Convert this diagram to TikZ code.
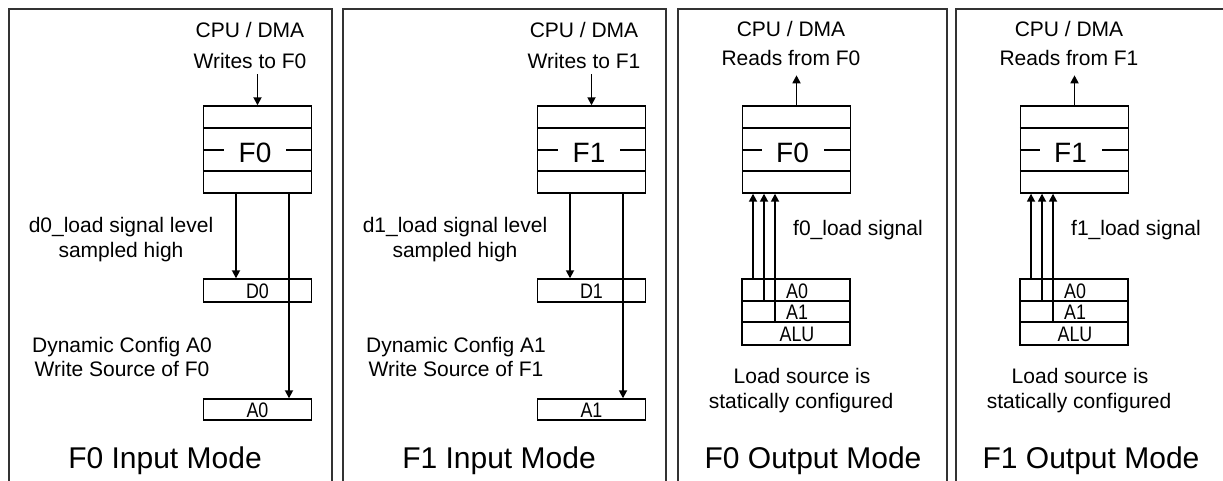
\documentclass[tikz,border=0pt]{standalone}
\usepackage{fontspec}
\setmainfont{Liberation Sans}
\usetikzlibrary{arrows.meta,calc}
\tikzset{
  panel/.style={draw=black!80,line width=1.8pt},
  lbl/.style={anchor=base,inner sep=0pt,font=\fontsize{21}{21}\selectfont},
  lblw/.style={anchor=base west,inner sep=0pt,font=\fontsize{21}{21}\selectfont},
  ttl/.style={anchor=base,inner sep=0pt,font=\fontsize{30}{30}\selectfont},
  fifotxt/.style={anchor=base,inner sep=0pt,font=\fontsize{28}{28}\selectfont},
  regtxt/.style={anchor=base,inner sep=0pt,font=\fontsize{21}{21}\selectfont},
  fifo/.style={draw,line width=1.4pt,minimum width=108pt,minimum height=87pt,inner sep=0pt},
  reg/.style={draw,line width=1.4pt,minimum width=108pt,inner sep=0pt},
  rowline/.style={line width=1.4pt},
  arr/.style={line width=1.7pt,-{Triangle[length=8pt,width=8pt]}},
}
\newcommand{\narrow}[1]{\scalebox{0.85}[1]{#1}}
\newcommand{\InPanel}[2]{%
\begin{scope}[xshift=#1]
  \draw[panel] (9,500) -- (9,9) -- (332,9) -- (332,500);
  \node[lbl] (cpuI#2) at (250,38) {CPU / DMA};
  \node[lbl] (wrI#2) at (250,69) {Writes to F#2};
  \node[fifo] (fI#2) at (257.5,149.5) {};
  \draw[rowline] (fI#2.west |- 0,128) -- (fI#2.east |- 0,128);
  \draw[rowline] (fI#2.west |- 0,171) -- (fI#2.east |- 0,171);
  \draw[rowline] (fI#2.west |- 0,150) -- ++(21,0);
  \draw[rowline] (fI#2.east |- 0,150) -- ++(-26,0);
  \node[fifotxt] (fIt#2) at (255,163) {F#2};
  \coordinate (srcI#2) at ([yshift=31pt]fI#2.north);
  \draw[arr] (srcI#2) -- (fI#2.north);
  \node[reg,minimum height=23pt] (dI#2) at (257.5,290.5) {};
  \node[regtxt] (dIt#2) at (257.5,298.5) {\narrow{D#2}};
  \node[reg,minimum height=21pt] (aI#2) at (257.5,409.5) {};
  \node[regtxt] (aIt#2) at (257.5,417) {\narrow{A#2}};
  \draw[arr] ([xshift=-21.5pt]fI#2.south) -- ([xshift=-21.5pt]fI#2.south |- dI#2.north);
  \draw[arr] ([xshift=31.5pt]fI#2.south) -- ([xshift=31.5pt]fI#2.south |- aI#2.north);
  \node[lbl] (ldI#2) at (121,233) {d#2\_load signal level};
  \node[lbl] (shI#2) at (121,257) {sampled high};
  \node[lbl] (dcI#2) at (122,352) {Dynamic Config A#2};
  \node[lbl] (wsI#2) at (122,376) {Write Source of F#2};
  \node[ttl] (tI#2) at (165,468) {F#2 Input Mode};
\end{scope}}
\newcommand{\OutPanel}[2]{%
\begin{scope}[xshift=#1]
  \draw[panel] (678,500) -- (678,9) -- (947,9) -- (947,500);
  \node[lbl] (cpuO#2) at (791,37) {CPU / DMA};
  \node[lbl] (rdO#2) at (791,66) {Reads from F#2};
  \node[fifo] (fO#2) at (796.5,149.5) {};
  \draw[rowline] (fO#2.west |- 0,128) -- (fO#2.east |- 0,128);
  \draw[rowline] (fO#2.west |- 0,171) -- (fO#2.east |- 0,171);
  \draw[rowline] (fO#2.west |- 0,150) -- ++(20,0);
  \draw[rowline] (fO#2.east |- 0,150) -- ++(-27,0);
  \node[fifotxt] (fOt#2) at (792.5,163) {F#2};
  \coordinate (dstO#2) at ([yshift=30pt]fO#2.north);
  \draw[arr] (fO#2.north) -- (dstO#2);
  \node[reg,minimum height=22pt] (a0O#2) at (796,290) {};
  \node[reg,minimum height=21pt] (a1O#2) at (796,311.5) {};
  \node[reg,minimum height=23pt] (aluO#2) at (796,333.5) {};
  \node[regtxt] (a0Ot#2) at (797,298) {\narrow{A0}};
  \node[regtxt] (a1Ot#2) at (797,319) {\narrow{A1}};
  \node[regtxt] (aluOt#2) at (797,341.5) {\narrow{ALU}};
  \draw[arr] ([xshift=-43pt]a0O#2.north) -- ([xshift=-43pt]a0O#2.north |- fO#2.south);
  \draw[arr] ([xshift=-32pt]a1O#2.north) -- ([xshift=-32pt]a1O#2.north |- fO#2.south);
  \draw[arr] ([xshift=-21pt]aluO#2.north) -- ([xshift=-21pt]aluO#2.north |- fO#2.south);
  \node[lblw] (ldO#2) at (793,235) {f#2\_load signal};
  \node[lbl] (lsO#2) at (802,383) {Load source is};
  \node[lbl] (scO#2) at (801,408) {statically configured};
  \node[ttl] (tO#2) at (813,468) {F#2 Output Mode};
\end{scope}}
\begin{document}
\begin{tikzpicture}[x=1pt,y=-1pt]
  \path[use as bounding box] (0,0) rectangle (1223,481);
  \clip (0,0) rectangle (1223,481);
  \fill[white] (0,0) rectangle (1223,481);
  \InPanel{0pt}{0}
  \InPanel{334pt}{1}
  \OutPanel{0pt}{0}
  \OutPanel{278pt}{1}
\end{tikzpicture}
\end{document}
